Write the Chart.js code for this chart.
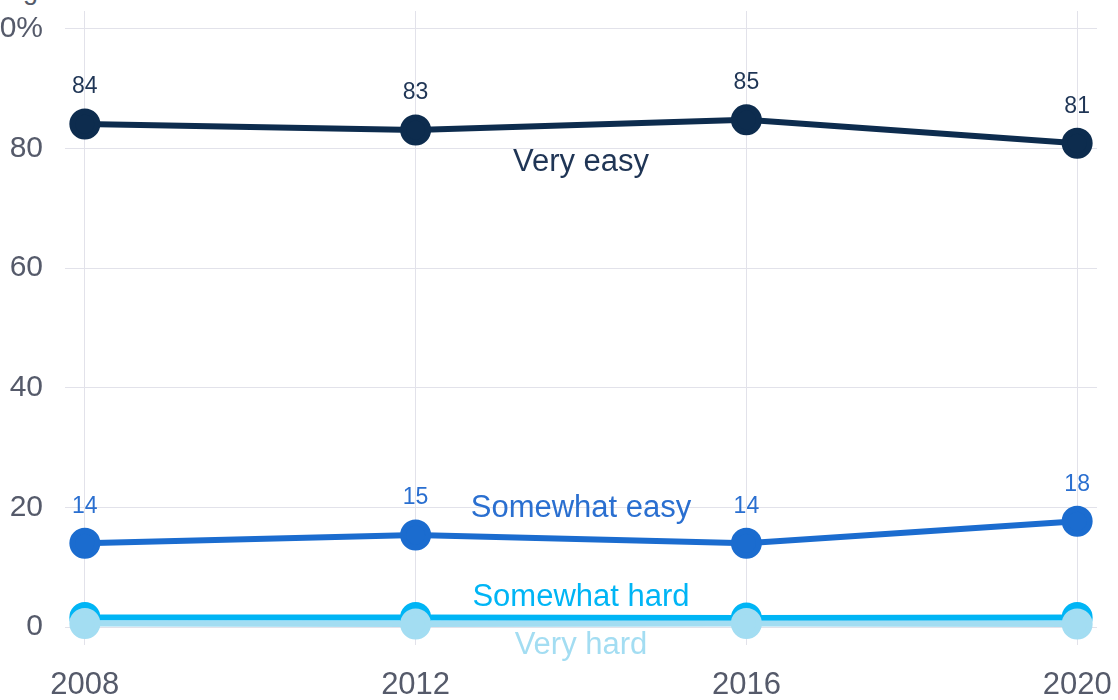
<!DOCTYPE html>
<html>
<head>
<meta charset="utf-8">
<script src="https://cdn.jsdelivr.net/npm/chart.js@4"></script>
<style>
  html, body { margin: 0; padding: 0; background: #fff; overflow: hidden; }
  body { width: 1118px; height: 700px; position: relative; font-family: "Liberation Sans", Arial, sans-serif; }
  #wrap { position: absolute; left: -40px; top: 0; width: 1158px; height: 700px; }
  #cut { position: absolute; right: 1080px; top: -23px; font-size: 27px; line-height: 27px; color: #555a6a; white-space: nowrap; }
</style>
</head>
<body>
<div id="cut">% saying it was rang</div>
<div id="wrap"><canvas id="chart"></canvas></div>
<script>
// Data
const years = [2008, 2012, 2016, 2020];
const veryEasy = [84.1, 83.1, 84.8, 80.9];
const somewhatEasy = [14, 15.4, 14, 17.7];
const somewhatHard = [1.6, 1.6, 1.5, 1.6];
const veryHard = [0.6, 0.5, 0.6, 0.5];
const yTicks = [0, 20, 40, 60, 80, 100];
const xTicks = years;

const tickColor = '#555a6a';
const gridColor = '#e2e2ea';
const fontFam = '"Liberation Sans", Arial, sans-serif';

function pts(vals) {
    return years.map((y, i) => ({ x: y, y: vals[i] }));
}

// label settings per series: pixel offset of the name, show value labels
const series = [
    { label: 'Very hard', data: veryHard, color: '#a3ddf2', text: '#a3ddf2', nameDy: 22, values: false, order: 0 },
    { label: 'Somewhat hard', data: somewhatHard, color: '#00b5f5', text: '#00b5f5', nameDy: -20, values: false, order: 1 },
    { label: 'Somewhat easy', data: somewhatEasy, color: '#1b6ccf', text: '#2a6fd0', nameDy: -31, values: true, order: 2 },
    { label: 'Very easy', data: veryEasy, color: '#0d2c4e', text: '#1f3555', nameDy: 38, values: true, order: 3 }
];

const labelPlugin = {
    id: 'labels',
    afterDatasetsDraw(chart) {
        const ctx = chart.ctx;
        const xs = chart.scales.x, ys = chart.scales.y;
        ctx.save();
        ctx.textAlign = 'center';
        ctx.textBaseline = 'middle';
        chart.data.datasets.forEach((ds, i) => {
            const s = series[i];
            const meta = chart.getDatasetMeta(i);
            if (s.values) {
                ctx.font = '23px ' + fontFam;
                ctx.fillStyle = s.text;
                meta.data.forEach((el, j) => {
                    ctx.fillText(Math.round(s.data[j]), el.x, el.y - 37);
                });
            }
            // series name between 2012 and 2016
            const mid = (s.data[1] + s.data[2]) / 2;
            ctx.font = '31px ' + fontFam;
            ctx.fillStyle = s.text;
            ctx.fillText(s.label, xs.getPixelForValue((years[1] + years[2]) / 2), ys.getPixelForValue(mid) + s.nameDy);
        });
        ctx.restore();
    }
};

function noPad(sc) {
    sc.paddingTop = 0; sc.paddingBottom = 0; sc.paddingLeft = 0; sc.paddingRight = 0;
}

const chart = new Chart(document.getElementById('chart'), {
    type: 'line',
    data: {
        datasets: series.map(s => ({
            label: s.label,
            data: pts(s.data),
            borderColor: s.color,
            backgroundColor: s.color,
            pointBackgroundColor: s.color,
            pointBorderColor: s.color,
            borderWidth: 6,
            pointRadius: 12.5,
            pointHoverRadius: 12.5,
            order: s.order,
            clip: false,
            tension: 0
        }))
    },
    options: {
        responsive: true,
        maintainAspectRatio: false,
        animation: false,
        layout: { autoPadding: false, padding: { top: 11, right: 21, left: 0, bottom: 0 } },
        plugins: { legend: { display: false }, tooltip: { enabled: false } },
        scales: {
            x: {
                type: 'linear',
                min: 2007.76,
                max: 2020.24,
                afterBuildTicks: sc => { sc.ticks = xTicks.map(v => ({ value: v })); },
                afterFit: sc => { sc.height = 55; noPad(sc); },
                border: { display: false },
                grid: { color: gridColor, drawTicks: false, lineWidth: 1 },
                ticks: {
                    color: tickColor,
                    padding: 22,
                    font: { size: 31, family: fontFam },
                    callback: v => String(v),
                    maxRotation: 0
                }
            },
            y: {
                min: -3,
                max: 103,
                afterBuildTicks: sc => { sc.ticks = yTicks.map(v => ({ value: v })); },
                afterFit: sc => { sc.width = 105; noPad(sc); },
                border: { display: false },
                grid: { color: gridColor, drawTicks: false, lineWidth: 1 },
                ticks: {
                    color: tickColor,
                    padding: 22,
                    font: { size: 30, family: fontFam },
                    callback: v => v === 100 ? '100%' : String(v)
                }
            }
        }
    },
    plugins: [labelPlugin]
});
</script>
</body>
</html>
